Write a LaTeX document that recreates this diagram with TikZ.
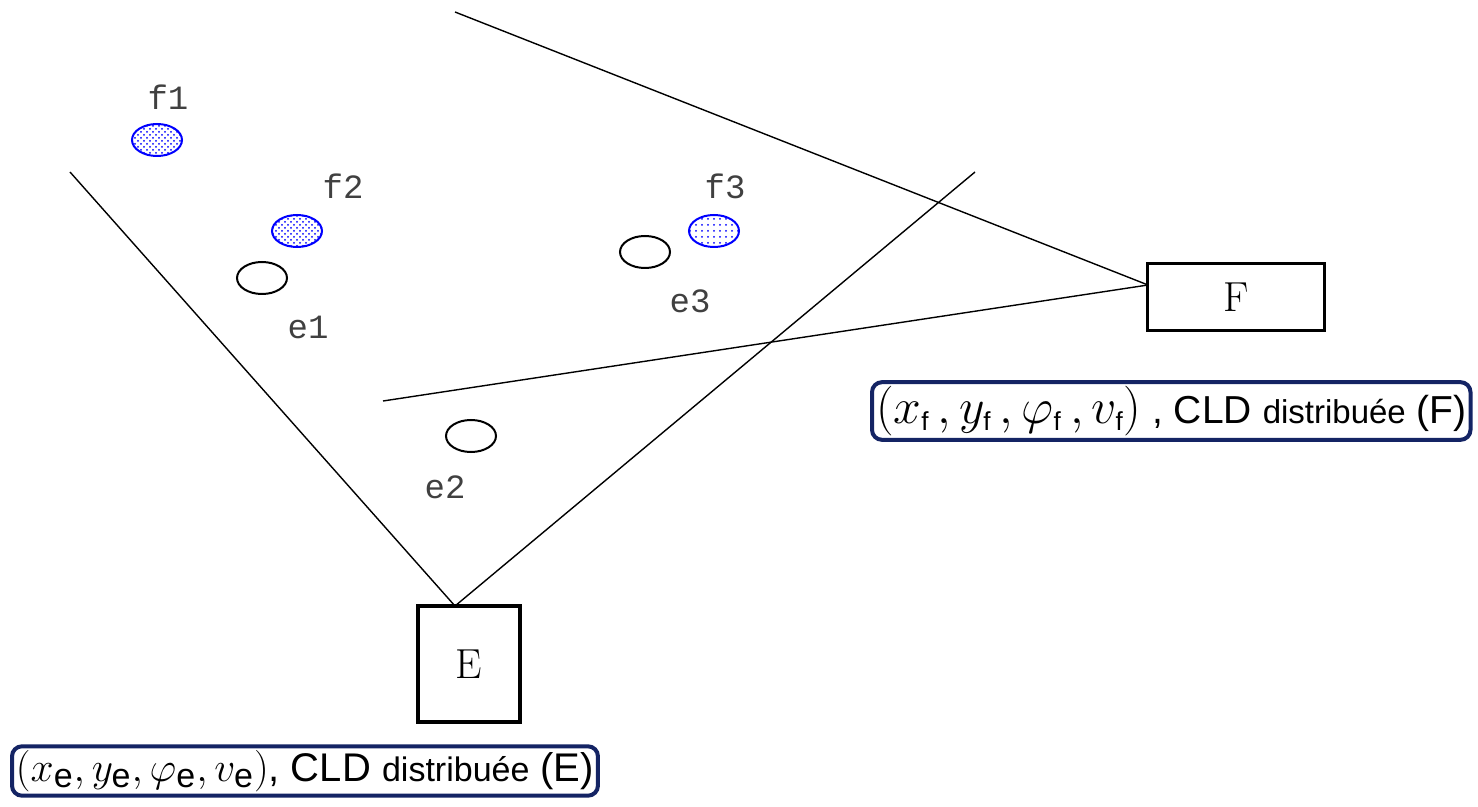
\documentclass[tikz,border=0pt]{standalone}
\usepackage{amsmath,amssymb}
\usepackage{fontspec}
\setsansfont{Liberation Sans}
\setmonofont{Liberation Mono}
\usepackage{xcolor}
\usetikzlibrary{shapes.geometric,patterns,positioning}

\definecolor{navyframe}{RGB}{20,36,100}
\newcommand{\sub}[2]{\mbox{\fontsize{#1}{#1}\sffamily #2}}

\begin{document}
\begin{tikzpicture}[
  x=0.5pt, y=-0.5pt,
  agent/.style={draw, line width=1.6pt, minimum width=51pt, minimum height=58pt,
                inner sep=0pt, font=\fontsize{21}{24}\selectfont},
  ecirc/.style={draw, ellipse, line width=1pt, minimum width=25pt, minimum height=16pt,
                inner sep=0pt},
  fcirc/.style={ecirc, draw=blue, pattern=crosshatch dots, pattern color=blue},
  fsparse/.style={ecirc, draw=blue, pattern=dots, pattern color=blue},
  tag/.style={font=\ttfamily\fontsize{17}{19}\selectfont, text=black!75, inner sep=0pt},
  state/.style={draw=navyframe, line width=2pt, rounded corners=5pt, inner xsep=2pt,
                inner ysep=2pt, fill=white},
  every path/.style={line width=0.7pt}
]
\useasboundingbox (0,0) rectangle (1478,807);

% agents
\node[agent] (E) at (469,664) {E};
\node[agent, minimum width=88.5pt, minimum height=33.5pt] (F) at (1236,297) {F};

% field of view limits
\coordinate (etl) at (70,172);
\coordinate (etr) at (975,172);
\coordinate (ein) at (455,606);
\coordinate (ftop) at (455,12);
\coordinate (fbot) at (383,401);
\coordinate (fin) at (1148,285);

\draw (etl) -- (ein);
\draw (etr) -- (ein);
\draw (ftop) -- (fin);
\draw (fbot) -- (fin);

% targets
\node[fcirc] (f1) at (157,140) {};
\node[fcirc] (f2) at (297,231) {};
\node[fsparse] (f3) at (714,231) {};
\node[ecirc] (e1) at (262,278) {};
\node[ecirc] (e2) at (471,436) {};
\node[ecirc] (e3) at (645,252) {};

\node[tag] (lf1) at (168,97) {f1};
\node[tag] (lf2) at (343,186) {f2};
\node[tag] (lf3) at (725,186) {f3};
\node[tag] (le1) at (308,327) {e1};
\node[tag] (le2) at (445,487) {e2};
\node[tag] (le3) at (690,301) {e3};

% states
\node[state, anchor=west] (sF) at (870,411)
  {\fontsize{25.5}{29}\selectfont$(x_{\sub{13}{f}}\,,y_{\sub{13}{f}}\,,\varphi_{\sub{13}{f}}\,,v_{\sub{13}{f}})$\sffamily\fontsize{19.5}{22}\selectfont{} , CLD {\fontsize{16.5}{20}\selectfont distribuée} (F)};
\node[state, anchor=west] (sE) at (10,771)
  {\fontsize{22}{24}\selectfont$(x_{\sub{17}{e}},y_{\sub{17}{e}},\varphi_{\sub{17}{e}},v_{\sub{17}{e}})$\sffamily\fontsize{20}{22}\selectfont, CLD {\fontsize{17}{20}\selectfont distribuée} (E)};
\end{tikzpicture}
\end{document}
